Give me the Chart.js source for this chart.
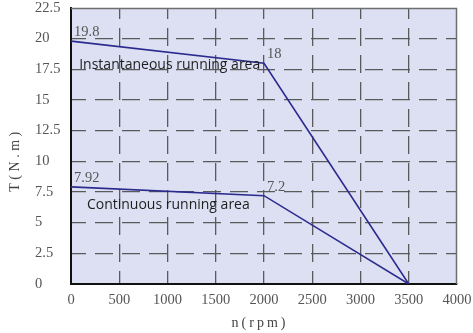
<!DOCTYPE html>
<html>
<head>
<meta charset="utf-8">
<script src="https://cdn.jsdelivr.net/npm/chart.js@4/dist/chart.umd.min.js"></script>
<style>
  html, body { margin: 0; padding: 0; background: #ffffff; }
  canvas { display: block; }
</style>
</head>
<body>
<canvas id="torque" width="473" height="333" style="width:473px;height:333px"></canvas>
<script>
// Motor torque–speed envelope
const speedRpm = [0, 2000, 3500];
const peakTorque = [19.8, 18, 0];      // instantaneous (peak) limit, N.m
const ratedTorque = [7.92, 7.2, 0];    // continuous (rated) limit, N.m

const xTickLabels = ['0', '500', '1000', '1500', '2000', '2500', '3000', '3500', '4000'];
const yTickLabels = ['0', '2.5', '5', '7.5', '10', '12.5', '15', '17.5', '20', '22.5'];

// Region captions, anchored in data units (left edge, vertical centre)
const areaCaptions = ['Instantaneous running area', 'Continuous running area'];
const areaCaptionX = [85, 165];
const areaCaptionY = [17.85, 6.45];

const xTitle = 'n(rpm)';
const yTitle = 'T(N.m)';

const LINE_COLOR = '#2b2b8e';
const PLOT_BG = '#dde0f3';
const SERIF = "'Liberation Serif', 'DejaVu Serif', serif";

const toPoints = (ys) => speedRpm.map((x, i) => ({ x: x, y: ys[i] }));

const decorations = {
  id: 'decorations',
  beforeDraw(chart) {
    const { ctx, chartArea: a } = chart;
    ctx.save();
    ctx.fillStyle = PLOT_BG;
    ctx.fillRect(a.left, a.top, a.right - a.left, a.bottom - a.top);
    ctx.restore();
  },
  beforeDatasetsDraw(chart) {
    const { ctx, chartArea: a } = chart;
    ctx.save();
    ctx.strokeStyle = '#6e6e6e';
    ctx.lineWidth = 1.5;
    ctx.beginPath();
    ctx.moveTo(a.left, a.top + 0.5);
    ctx.lineTo(a.right - 0.5, a.top + 0.5);
    ctx.lineTo(a.right - 0.5, a.bottom);
    ctx.stroke();
    ctx.restore();
  },
  afterDatasetsDraw(chart) {
    const { ctx, chartArea: a } = chart;
    const xs = chart.scales.x, ys = chart.scales.y;
    ctx.save();

    // value labels at the corner points of each curve
    ctx.font = '14.5px ' + SERIF;
    ctx.fillStyle = '#555555';
    ctx.textAlign = 'left';
    ctx.textBaseline = 'alphabetic';
    [peakTorque, ratedTorque].forEach((series) => {
      series.forEach((v, i) => {
        if (v === 0) return;
        const px = xs.getPixelForValue(speedRpm[i]);
        const py = ys.getPixelForValue(v);
        ctx.fillText(String(v), px + 3, py - 5);
      });
    });

    // region captions
    ctx.font = "14px 'Open Sans', 'Noto Sans', sans-serif";
    ctx.fillStyle = '#1e1e1e';
    ctx.textBaseline = 'middle';
    areaCaptions.forEach((t, i) => {
      ctx.fillText(t, xs.getPixelForValue(areaCaptionX[i]), ys.getPixelForValue(areaCaptionY[i]));
    });

    // axis titles
    ctx.font = '14px ' + SERIF;
    ctx.fillStyle = '#444444';
    ctx.textAlign = 'center';
    ctx.letterSpacing = '3px';
    ctx.fillText(xTitle, (a.left + a.right) / 2 - 4, 323);
    ctx.translate(15, 160);
    ctx.rotate(-Math.PI / 2);
    ctx.letterSpacing = '3.5px';
    ctx.fillText(yTitle, 0, 0);
    ctx.restore();
  }
};

new Chart(document.getElementById('torque'), {
  type: 'scatter',
  data: {
    datasets: [
      {
        label: 'Instantaneous',
        data: toPoints(peakTorque),
        showLine: true,
        borderColor: LINE_COLOR,
        borderWidth: 1.6,
        pointRadius: 0,
        tension: 0
      },
      {
        label: 'Continuous',
        data: toPoints(ratedTorque),
        showLine: true,
        borderColor: LINE_COLOR,
        borderWidth: 1.6,
        pointRadius: 0,
        tension: 0
      }
    ]
  },
  options: {
    responsive: false,
    animation: false,
    events: [],
    layout: { padding: { left: 35, right: 16, top: 8, bottom: 0 } },
    plugins: {
      legend: { display: false },
      tooltip: { enabled: false }
    },
    scales: {
      x: {
        type: 'linear',
        min: 0,
        max: 4000,
        afterFit(scale) {
          scale.height = 49;
          scale.paddingLeft = 0;
          scale.paddingRight = 0;
        },
        ticks: {
          stepSize: 500,
          autoSkip: false,
          maxRotation: 0,
          padding: 7,
          color: '#555555',
          font: { family: SERIF, size: 14.5 },
          callback: (v, i) => xTickLabels[i]
        },
        grid: {
          drawTicks: false,
          lineWidth: 1.3,
          color: (c) => (c.index === 0 || c.index === xTickLabels.length - 1) ? 'rgba(0,0,0,0)' : '#5a5a5a'
        },
        border: { display: true, color: '#111111', width: 2, dash: [18, 9], dashOffset: 7 }
      },
      y: {
        type: 'linear',
        min: 0,
        max: 22.5,
        afterFit(scale) {
          scale.width = 36;
          scale.paddingTop = 0;
          scale.paddingBottom = 0;
        },
        ticks: {
          stepSize: 2.5,
          crossAlign: 'far',
          padding: 0,
          color: '#555555',
          font: { family: SERIF, size: 14.5 },
          callback: (v, i) => yTickLabels[i]
        },
        grid: {
          drawTicks: false,
          lineWidth: 1.3,
          color: (c) => (c.index === 0 || c.index === yTickLabels.length - 1) ? 'rgba(0,0,0,0)' : '#5a5a5a'
        },
        border: { display: true, color: '#111111', width: 2, dash: [18, 9], dashOffset: 4 }
      }
    }
  },
  plugins: [decorations]
});
</script>
</body>
</html>
